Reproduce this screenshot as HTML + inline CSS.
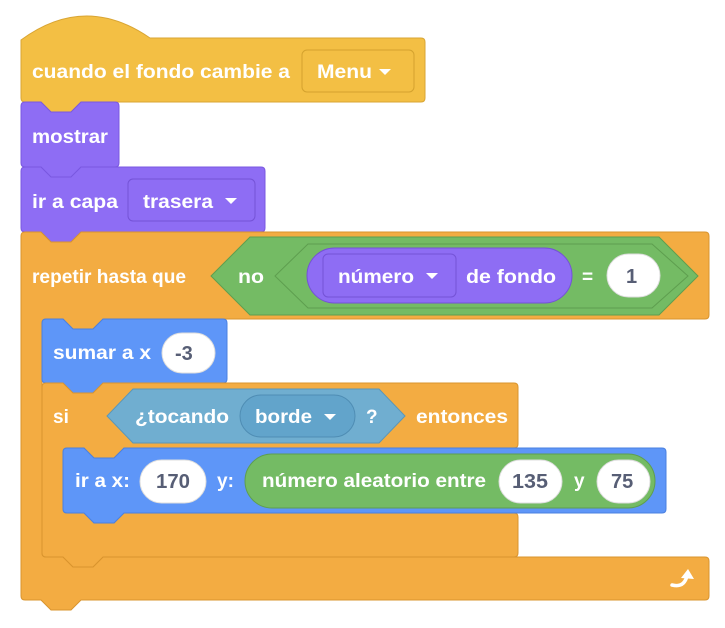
<!DOCTYPE html>
<html><head><meta charset="utf-8"><style>
html,body{margin:0;padding:0;background:#fff;width:725px;height:628px;overflow:hidden}
svg{display:block}
text{font-family:"Liberation Sans",sans-serif;font-weight:bold;font-size:19px;fill:#fff}
.d{fill:#575E75;font-size:20px}
</style></head><body>
<svg width="725" height="628" viewBox="0 0 725 628" xmlns="http://www.w3.org/2000/svg">
<path d="M21,40 Q85,-7 150,38 L421,38 Q425,38 425,42 L425,98 Q425,102 421,102 L81,102 L71,112 L51,112 L41,102 L25,102 Q21,102 21,98 Z" fill="#F3BF44" stroke="#D9A533" stroke-width="1"/>
<rect x="302" y="50" width="112" height="42" rx="5" fill="#F3BF44" stroke="#D4A22E" stroke-width="1"/>
<text x="32" y="78" textLength="258" lengthAdjust="spacingAndGlyphs">cuando el fondo cambie a</text>
<text x="317" y="78" textLength="55" lengthAdjust="spacingAndGlyphs">Menu</text>
<path d="M379,69 L391,69 L385,75 Z" fill="#fff"/>
<path d="M21,106 Q21,102 25,102 L41,102 L51,112 L71,112 L81,102 L115,102 Q119,102 119,106 L119,163 Q119,167 115,167 L81,167 L71,177 L51,177 L41,167 L25,167 Q21,167 21,163 Z" fill="#8E6DF4" stroke="#7A58E0" stroke-width="1"/>
<text x="32" y="143" textLength="76" lengthAdjust="spacingAndGlyphs">mostrar</text>
<path d="M21,171 Q21,167 25,167 L41,167 L51,177 L71,177 L81,167 L261,167 Q265,167 265,171 L265,228 Q265,232 261,232 L81,232 L71,242 L51,242 L41,232 L25,232 Q21,232 21,228 Z" fill="#8E6DF4" stroke="#7A58E0" stroke-width="1"/>
<rect x="128" y="179" width="127" height="42" rx="5" fill="#8E6DF4" stroke="#7452D6" stroke-width="1"/>
<text x="32" y="208" textLength="86" lengthAdjust="spacingAndGlyphs">ir a capa</text>
<text x="143" y="208" textLength="70" lengthAdjust="spacingAndGlyphs">trasera</text>
<path d="M225,198 L237,198 L231,204 Z" fill="#fff"/>
<path d="M21,236 Q21,232 25,232 L41,232 L51,242 L71,242 L81,232 L705,232 Q709,232 709,236 L709,315 Q709,319 705,319 L103,319 L93,329 L73,329 L63,319 L46,319 Q42,319 42,323 L42,553 Q42,557 46,557 L63,557 L73,567 L93,567 L103,557 L705,557 Q709,557 709,561 L709,596 Q709,600 705,600 L81,600 L71,610 L51,610 L41,600 L25,600 Q21,600 21,596 Z" fill="#F3AC42" stroke="#D9942E" stroke-width="1"/>
<text x="32" y="283" textLength="154" lengthAdjust="spacingAndGlyphs">repetir hasta que</text>
<path d="M250,237 L659,237 L698,276 L659,315 L250,315 L211,276 Z" fill="#74BB64" stroke="#5E9E4F" stroke-width="1"/>
<text x="238" y="283" textLength="26" lengthAdjust="spacingAndGlyphs">no</text>
<path d="M308,244 L652,244 L688,276 L652,308 L308,308 L275,276 Z" fill="#74BB64" stroke="#5E9E4F" stroke-width="1"/>
<rect x="307" y="248" width="265" height="55" rx="27.5" fill="#8E6DF4" stroke="#7452D6" stroke-width="1"/>
<rect x="323" y="254" width="133" height="43" rx="5" fill="#8E6DF4" stroke="#7452D6" stroke-width="1"/>
<text x="338" y="283" textLength="76" lengthAdjust="spacingAndGlyphs">número</text>
<path d="M426,273 L438,273 L432,279 Z" fill="#fff"/>
<text x="466" y="283" textLength="90" lengthAdjust="spacingAndGlyphs">de fondo</text>
<text x="582" y="283">=</text>
<rect x="607" y="254" width="53" height="43" rx="21.5" fill="#fff" stroke="#ddd" stroke-width="1"/>
<text x="626" y="283" class="d">1</text>
<path d="M42,323 Q42,319 46,319 L63,319 L73,329 L93,329 L103,319 L223,319 Q227,319 227,323 L227,379 Q227,383 223,383 L103,383 L93,393 L73,393 L63,383 L46,383 Q42,383 42,379 Z" fill="#5E96F8" stroke="#4A80E0" stroke-width="1"/>
<text x="53" y="359" textLength="98" lengthAdjust="spacingAndGlyphs">sumar a x</text>
<rect x="162" y="333" width="53" height="40" rx="20" fill="#fff" stroke="#ddd" stroke-width="1"/>
<text x="175" y="360" class="d">-3</text>
<path d="M42,387 Q42,383 46,383 L63,383 L73,393 L93,393 L103,383 L514,383 Q518,383 518,387 L518,444 Q518,448 514,448 L124,448 L114,458 L94,458 L84,448 L67,448 Q63,448 63,452 L63,509 Q63,513 67,513 L84,513 L94,523 L114,523 L124,513 L514,513 Q518,513 518,517 L518,553 Q518,557 514,557 L103,557 L93,567 L73,567 L63,557 L46,557 Q42,557 42,553 Z" fill="#F3AC42" stroke="#D9942E" stroke-width="1"/>
<text x="53" y="423">si</text>
<path d="M133,389 L379,389 L405,416 L379,443 L133,443 L107,416 Z" fill="#70AED0" stroke="#5A96B8" stroke-width="1"/>
<text x="135" y="423" textLength="94" lengthAdjust="spacingAndGlyphs">¿tocando</text>
<rect x="240" y="395" width="115" height="42" rx="21" fill="#62A4CB" stroke="#4F8DB4" stroke-width="1"/>
<text x="255" y="423" textLength="57" lengthAdjust="spacingAndGlyphs">borde</text>
<path d="M324,414 L336,414 L330,420 Z" fill="#fff"/>
<text x="366" y="423">?</text>
<text x="416" y="423" textLength="92" lengthAdjust="spacingAndGlyphs">entonces</text>
<path d="M63,452 Q63,448 67,448 L84,448 L94,458 L114,458 L124,448 L662,448 Q666,448 666,452 L666,509 Q666,513 662,513 L124,513 L114,523 L94,523 L84,513 L67,513 Q63,513 63,509 Z" fill="#5E96F8" stroke="#4A80E0" stroke-width="1"/>
<text x="75" y="487" textLength="55" lengthAdjust="spacingAndGlyphs">ir a x:</text>
<rect x="140" y="460" width="66" height="43" rx="21.5" fill="#fff" stroke="#ddd" stroke-width="1"/>
<text x="156" y="488" class="d" textLength="34" lengthAdjust="spacingAndGlyphs">170</text>
<text x="217" y="487">y:</text>
<rect x="245" y="454" width="410" height="54" rx="27" fill="#74BB64" stroke="#5E9E4F" stroke-width="1"/>
<text x="262" y="487" textLength="224" lengthAdjust="spacingAndGlyphs">número aleatorio entre</text>
<rect x="499" y="460" width="63" height="43" rx="21.5" fill="#fff" stroke="#ddd" stroke-width="1"/>
<text x="512" y="488" class="d" textLength="36" lengthAdjust="spacingAndGlyphs">135</text>
<text x="574" y="487">y</text>
<rect x="597" y="460" width="53" height="43" rx="21.5" fill="#fff" stroke="#ddd" stroke-width="1"/>
<text x="611" y="488" class="d">75</text>
<path d="M672,585 Q684,588 687,576" fill="none" stroke="#fff" stroke-width="3.5" stroke-linecap="round"/>
<path d="M681,578 L688,569 L694,579 Z" fill="#fff"/>
</svg>
</body></html>
